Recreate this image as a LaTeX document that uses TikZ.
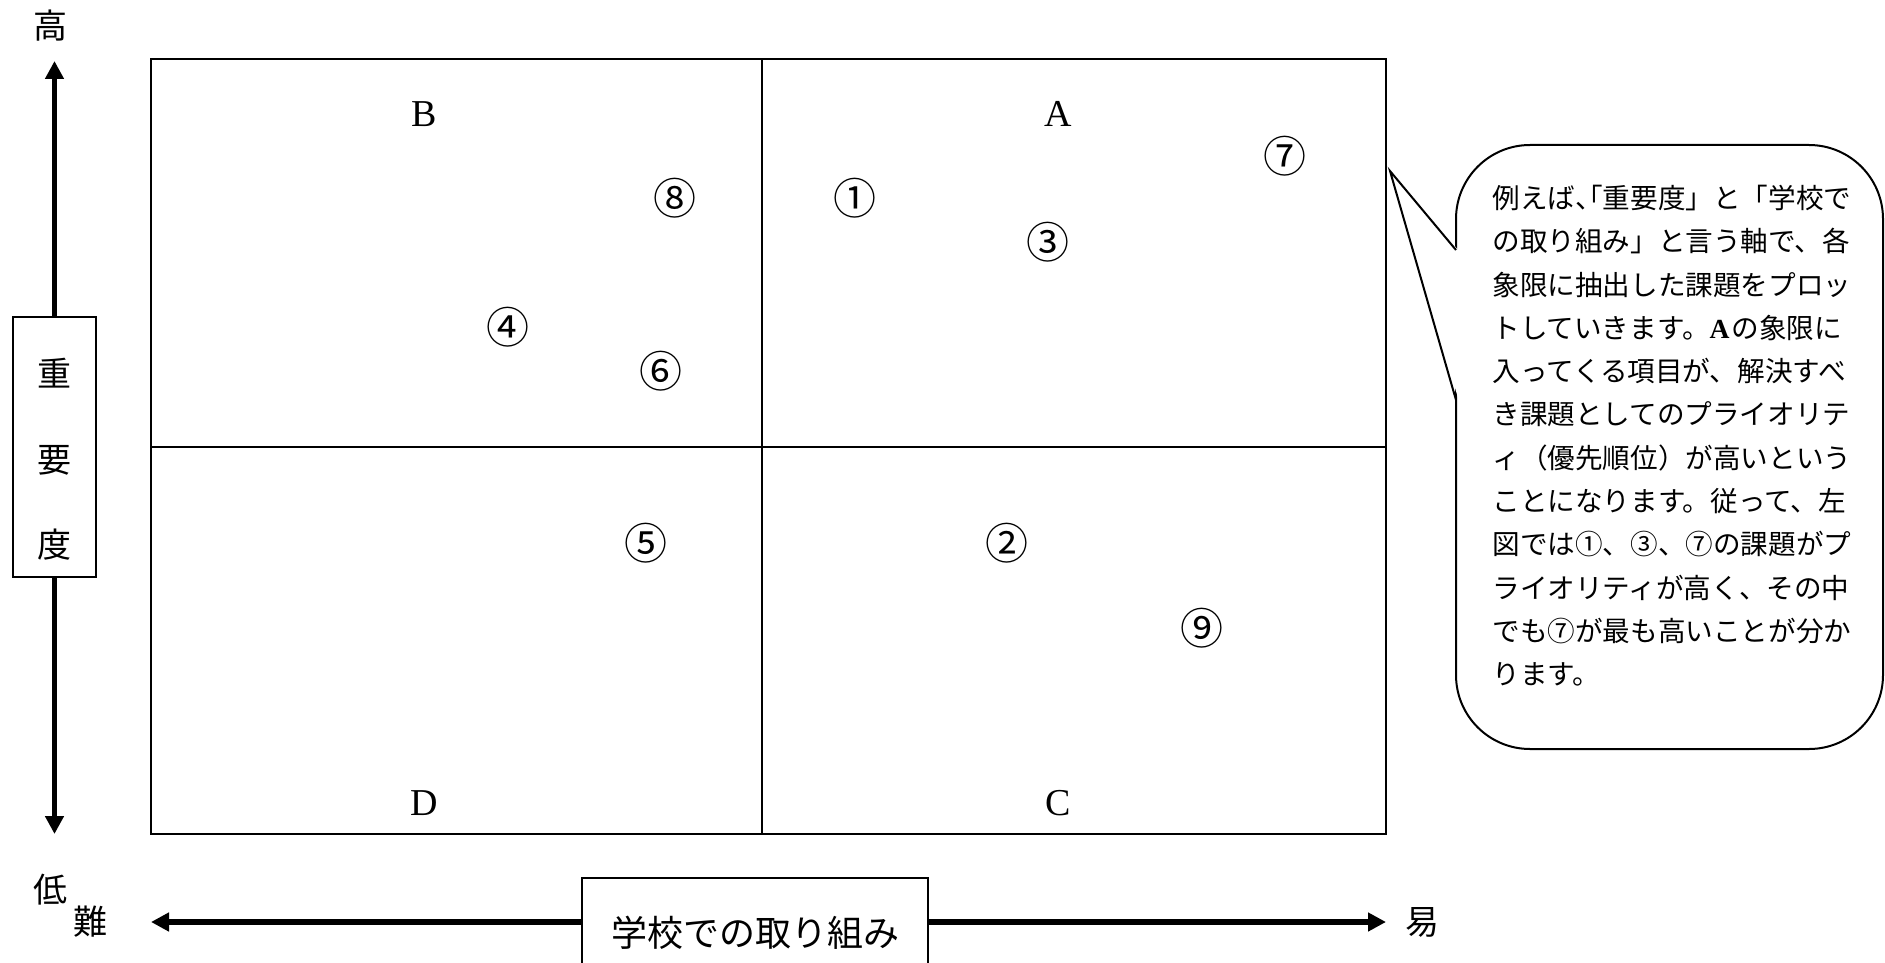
\documentclass[tikz,border=0pt]{standalone}
\usepackage{fontspec}
\setmainfont{Liberation Serif}
\newfontfamily\jp{Noto Sans CJK JP}
\newfontfamily\jphalt[RawFeature=+halt]{Noto Sans CJK JP}
\usetikzlibrary{arrows.meta}
\begin{document}
\begin{tikzpicture}[x=0.5pt,y=-0.5pt,
  gridline/.style={line width=0.9pt},
  vaxis/.style={line width=2.4pt,-{Triangle[width=9pt,length=9pt]}},
  haxis/.style={line width=2.8pt,-{Triangle[width=9pt,length=9pt]}},
  kanji/.style={font=\jp\fontsize{17pt}{20pt}\selectfont,inner sep=0pt},
  quadlbl/.style={font=\fontsize{19pt}{22pt}\selectfont,inner sep=0pt},
  num/.style={font=\jp\fontsize{21.5pt}{24pt}\selectfont,inner sep=0pt},
  note/.style={font=\jp\fontsize{13.8pt}{20pt}\selectfont,inner sep=0pt,anchor=west},
  callout/.style={line width=1pt},
]
\clip (0,0) rectangle (1885,963);

% quadrant grid
\draw[gridline] (151,59) rectangle (1386,834);
\draw[gridline] (762,59) -- (762,834);
\draw[gridline] (151,447) -- (1386,447);

% quadrant letters
\node[quadlbl] (qB) at (424,114) {B};
\node[quadlbl] (qA) at (1058,114) {A};
\node[quadlbl] (qD) at (424,803) {D};
\node[quadlbl] (qC) at (1058,803) {C};

% plotted items
\node[num] (n1) at (855,198) {①};
\node[num] (n2) at (1007,543) {②};
\node[num] (n3) at (1048,242) {③};
\node[num] (n4) at (508,327) {④};
\node[num] (n5) at (646,543) {⑤};
\node[num] (n6) at (661,371) {⑥};
\node[num] (n7) at (1285,156) {⑦};
\node[num] (n8) at (675,198) {⑧};
\node[num] (n9) at (1202,628) {⑨};

% vertical axis
\node[draw,gridline,minimum width=41.5pt,minimum height=130pt,inner sep=0pt] (vbox) at (54.5,447) {};
\node[kanji] (v1) at (54.5,373) {重};
\node[kanji] (v2) at (54.5,460) {要};
\node[kanji] (v3) at (54.5,545) {度};
\coordinate (upTip) at (54.5,61);
\coordinate (downTip) at (54.5,834);
\draw[vaxis] (vbox.north) -- (upTip);
\draw[vaxis] (vbox.south) -- (downTip);
\node[kanji] (hi) at (50,26) {高};
\node[kanji] (lo) at (50,890) {低};

% horizontal axis
\node[draw,gridline,minimum width=173pt,minimum height=55pt,inner sep=0pt,
      font=\jp\fontsize{18pt}{20pt}\selectfont] (hbox) at (755,933) {学校での取り組み};
\coordinate (leftTip) at (151,922);
\coordinate (rightTip) at (1386,922);
\draw[haxis] (hbox.west |- leftTip) -- (leftTip);
\draw[haxis] (hbox.east |- rightTip) -- (rightTip);
\node[kanji] (hard) at (90,922) {難};
\node[kanji] (easy) at (1422,922) {易};

% callout
\draw[callout,rounded corners=37pt] (1456,145) rectangle (1883,749);
\coordinate (tailTip) at (1390,171);
\coordinate (tailA) at (1456,250);
\coordinate (tailB) at (1456,400);
\fill[white] (tailTip) -- (1458.5,250.5) -- (1458.5,399.5) -- cycle;
\draw[callout,line join=miter] (tailA) -- (tailTip) -- (tailB);

\foreach \t [count=\i from 0] in {
  {例えば{\jphalt 、「}重要度」と「学校で},
  {の取り組み」と言う軸で、各},
  {象限に抽出した課題をプロッ},
  {トしていきます。{\rmfamily\bfseries A\kern1pt}の象限に},
  {入ってくる項目が、解決すべ},
  {き課題としてのプライオリテ},
  {ィ（優先順位）が高いという},
  {ことになります。従って、左},
  {図では①、③、⑦の課題がプ},
  {ライオリティが高く、その中},
  {でも⑦が最も高いことが分か},
  {ります。}}
  \node[note] (line\i) at (1492,198+43.3*\i) {\t};
\end{tikzpicture}
\end{document}
